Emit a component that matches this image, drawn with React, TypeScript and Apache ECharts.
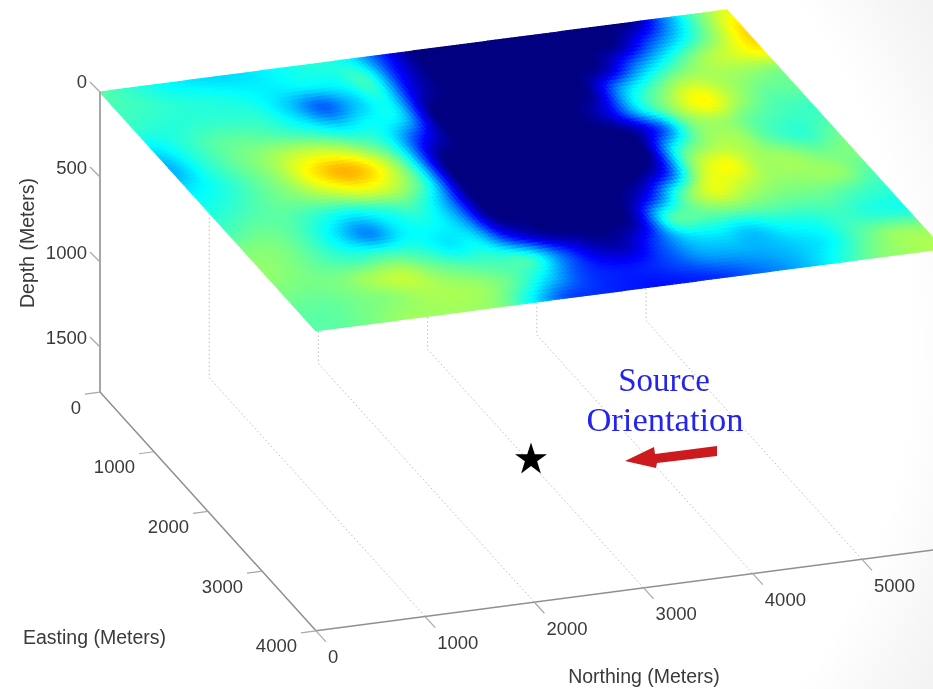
import React, { useEffect, useRef } from "react";
import * as echarts from "echarts";

const northingTicks = [0, 1000, 2000, 3000, 4000, 5000];
const eastingTicks = [0, 1000, 2000, 3000, 4000];
const depthTicks = [0, 500, 1000, 1500];
const gridLineNorthings = [1000, 2000, 3000, 4000, 5000];

const northingMax = 5740;
const eastingMax = 4000;
const floorDepth = 1765;
const sourceNorthing = 3040;
const sourceEasting = 1834;

const row00 = [.46,.42,.38,.35,.34,.36,.39,.41,.36,.17,.0,0,0,0,0,0,0,.02,.25,.47,.60];
const row01 = [.44,.43,.41,.40,.38,.36,.37,.38,.42,.14,0,0,0,0,0,0,.03,.20,.36,.52,.66];
const row02 = [.42,.41,.42,.42,.41,.33,.22,.32,.38,.08,0,0,0,0,0,.05,.25,.40,.52,.58,.64];
const row03 = [.35,.41,.46,.47,.45,.41,.35,.38,.33,0,0,0,0,0,.03,.30,.45,.55,.54,.52,.50];
const row04 = [.30,.40,.47,.52,.57,.57,.50,.39,.15,0,0,0,0,0,.10,.36,.53,.63,.54,.47,.47];
const row05 = [.36,.40,.46,.53,.64,.70,.62,.42,.03,0,0,0,0,0,0,.18,.48,.53,.47,.44,.43];
const row06 = [.40,.43,.47,.50,.55,.60,.56,.40,0,0,0,0,0,0,0,.40,.53,.54,.46,.42,.47];
const row07 = [.44,.47,.46,.41,.37,.41,.44,.30,0,0,0,0,0,0,.14,.52,.62,.54,.53,.49,.50];
const row08 = [.50,.50,.45,.36,.26,.36,.38,.30,.02,0,0,0,0,.15,.45,.60,.56,.52,.52,.52,.46];
const row09 = [.52,.50,.46,.43,.44,.42,.36,.36,.15,.03,0,0,.06,.42,.47,.49,.48,.47,.47,.44,.42];
const row10 = [.50,.49,.50,.54,.56,.50,.46,.44,.42,.22,.08,.05,.18,.33,.36,.33,.38,.40,.43,.41,.40];
const row11 = [.47,.47,.49,.51,.54,.54,.52,.46,.34,.20,.15,.15,.20,.27,.29,.30,.33,.37,.46,.52,.52];
const row12 = [.46,.47,.50,.53,.53,.53,.50,.36,.20,.17,.15,.14,.15,.17,.22,.27,.33,.42,.50,.53,.55];
const amplitudeRows = [row00,row01,row02,row03,row04,row05,row06,row07,row08,row09,row10,row11,row12];

const W = 933;
const H = 689;
const SUB_N = 8;
const SUB_E = 6;
const FONT = '18.5px "Liberation Sans", Arial, sans-serif';
const TITLE_FONT = '19.5px "Liberation Sans", Arial, sans-serif';
const TEXT = "#3a3a3a";
const AXIS = "#8f8f8f";

// Oblique view of the 3-D box: (northing, easting, depth) to the hidden cartesian axes.
const project = (n: number, e: number, d: number): number[] => [
  100 + 0.1092 * n + 0.054 * e,
  92 - 0.0143 * n + 0.0597 * e + 0.17 * d,
];

const stops: [number, number[]][] = [
  [0, [0, 0, 128]],
  [0.125, [0, 0, 255]],
  [0.375, [0, 255, 255]],
  [0.625, [255, 255, 0]],
  [0.875, [255, 0, 0]],
  [1, [128, 0, 0]],
];
const jet = (t: number): string => {
  const v = Math.min(1, Math.max(0, t));
  for (let i = 1; i < stops.length; i++) {
    if (v <= stops[i][0]) {
      const [a, ca] = stops[i - 1];
      const [b, cb] = stops[i];
      const f = (v - a) / (b - a);
      return `rgb(${ca.map((c, k) => Math.round(c + (cb[k] - c) * f)).join(",")})`;
    }
  }
  return "rgb(128,0,0)";
};

// Smooth shading of one cell, as the original's interpolated surface is shaded.
const spline = (p0: number, p1: number, p2: number, p3: number, t: number) =>
  0.5 * (2 * p1 + (p2 - p0) * t + (2 * p0 - 5 * p1 + 4 * p2 - p3) * t * t + (3 * p1 - p0 - 3 * p2 + p3) * t * t * t);
const shade = (r: number, c: number, fr: number, fc: number) => {
  const R = amplitudeRows.length - 1;
  const C = row00.length - 1;
  const col = (rr: number) => {
    const row = amplitudeRows[Math.min(R, Math.max(0, rr))];
    const at = (k: number) => row[Math.min(C, Math.max(0, k))];
    return spline(at(c - 1), at(c), at(c + 1), at(c + 2), fc);
  };
  return spline(col(r - 1), col(r), col(r + 1), col(r + 2), fr);
};

const surfaceCells: number[][] = [];
const stepN = northingMax / (row00.length - 1);
const stepE = eastingMax / (amplitudeRows.length - 1);
for (let r = 0; r < amplitudeRows.length - 1; r++) {
  for (let c = 0; c < row00.length - 1; c++) {
    for (let i = 0; i < SUB_E; i++) {
      for (let j = 0; j < SUB_N; j++) {
        surfaceCells.push([
          (c + j / SUB_N) * stepN,
          (c + (j + 1) / SUB_N) * stepN,
          (r + i / SUB_E) * stepE,
          (r + (i + 1) / SUB_E) * stepE,
          shade(r, c, (i + 0.5) / SUB_E, (j + 0.5) / SUB_N),
        ]);
      }
    }
  }
}

type Tick = { from: number[]; dx: number; dy: number; lx: number; ly: number; align: string; label: string };
const ticks: Tick[] = [
  ...depthTicks.map((d) => ({ from: project(0, 0, d), dx: -10, dy: -10, lx: -13, ly: d === 0 ? -11 : -10, align: "right", label: String(d) })),
  ...eastingTicks.map((e) => ({ from: project(0, e, floorDepth), dx: -15, dy: 2, lx: -19, ly: 15, align: "right", label: String(e) })),
  ...northingTicks.map((n) => ({ from: project(n, eastingMax, floorDepth), dx: 10, dy: 11, lx: 12, ly: 26, align: "left", label: String(n) })),
];

const STAR = "path://M50 0 L61.8 35.5 L100 35.5 L69.1 57.5 L80.9 95 L50 71.5 L19.1 95 L30.9 57.5 L0 35.5 L38.2 35.5 Z";

export default function App() {
  const ref = useRef<HTMLDivElement>(null);
  useEffect(() => {
    const chart = echarts.init(ref.current!, null, { renderer: "svg" });
    chart.setOption({
      animation: false,
      grid: { left: 0, right: 0, top: 0, bottom: 0 },
      xAxis: { type: "value", min: 0, max: W, show: false },
      yAxis: { type: "value", min: 0, max: H, inverse: true, show: false },
      graphic: [
        {
          type: "rect",
          z: -10,
          silent: true,
          shape: { x: 0, y: 0, width: W, height: H },
          style: {
            fill: new echarts.graphic.RadialGradient(350, 345, 760, [
              { offset: 0, color: "#ffffff" },
              { offset: 0.74, color: "#ffffff" },
              { offset: 0.89, color: "#f2f2f2" },
              { offset: 1, color: "#e6e6e6" },
            ], true),
          },
        },
        { type: "text", z: 10, x: 664, y: 380, style: { text: "Source", font: '33px "Liberation Serif", serif', fill: "#2424f0", align: "center", verticalAlign: "middle" } },
        { type: "text", z: 10, x: 665, y: 419, style: { text: "Orientation", font: '34.5px "Liberation Serif", serif', fill: "#2424f0", align: "center", verticalAlign: "middle" } },
        {
          type: "polygon",
          z: 10,
          shape: { points: [[625, 461], [654, 447], [655, 454], [717, 446], [717, 456], [657, 463], [656, 468]] },
          style: { fill: "#cc1a1f" },
        },
        { type: "text", z: 10, x: 23, y: 637, style: { text: "Easting (Meters)", font: TITLE_FONT, fill: TEXT, align: "left", verticalAlign: "middle" } },
        { type: "text", z: 10, x: 644, y: 676, style: { text: "Northing (Meters)", font: TITLE_FONT, fill: TEXT, align: "center", verticalAlign: "middle" } },
        { type: "text", z: 10, x: 27, y: 243, rotation: Math.PI / 2, style: { text: "Depth (Meters)", font: TITLE_FONT, fill: TEXT, align: "center", verticalAlign: "middle" } },
      ],
      series: [
        {
          type: "custom",
          name: "Grid lines",
          z: 2,
          silent: true,
          clip: false,
          data: gridLineNorthings.map((n) => [n]),
          renderItem: (_p: any, api: any) => {
            const n = api.value(0);
            const pts = [project(n, 0, 0), project(n, 0, floorDepth), project(n, eastingMax, floorDepth)].map((p) => api.coord(p));
            return { type: "polyline", shape: { points: pts }, style: { stroke: "#bdbdbd", lineWidth: 1, lineDash: [1.5, 2.5], fill: "none" } };
          },
        },
        {
          type: "custom",
          name: "Amplitude",
          z: 3,
          silent: true,
          clip: false,
          progressive: 0,
          data: surfaceCells,
          renderItem: (_p: any, api: any) => {
            const n0 = api.value(0), n1 = api.value(1), e0 = api.value(2), e1 = api.value(3);
            const color = jet(api.value(4));
            const pts = [project(n0, e0, 0), project(n1, e0, 0), project(n1, e1, 0), project(n0, e1, 0)].map((p) => api.coord(p));
            return { type: "polygon", shape: { points: pts }, style: { fill: color, stroke: color, lineWidth: 1.2, lineJoin: "round" } };
          },
        },
        {
          type: "custom",
          name: "Axes",
          z: 4,
          silent: true,
          clip: false,
          data: [[0], [1], [2]],
          renderItem: (p: any, api: any) => {
            const ends = [
              [project(0, 0, 0), project(0, 0, floorDepth)],
              [project(0, 0, floorDepth), project(0, eastingMax, floorDepth)],
              [project(0, eastingMax, floorDepth), project(northingMax, eastingMax, floorDepth)],
            ][p.dataIndex].map((q) => api.coord(q));
            return {
              type: "line",
              shape: { x1: ends[0][0], y1: ends[0][1], x2: ends[1][0], y2: ends[1][1] },
              style: { stroke: p.dataIndex === 0 ? "#a6a6a6" : AXIS, lineWidth: p.dataIndex === 0 ? 2 : 1.5 },
            };
          },
        },
        {
          type: "custom",
          name: "Ticks",
          z: 4,
          silent: true,
          clip: false,
          data: ticks.map((_t, i) => [i]),
          renderItem: (p: any, api: any) => {
            const t = ticks[p.dataIndex];
            const [x, y] = api.coord(t.from);
            return {
              type: "group",
              children: [
                { type: "line", shape: { x1: x, y1: y, x2: x + t.dx, y2: y + t.dy }, style: { stroke: "#a8a8a8", lineWidth: 1.2 } },
                { type: "text", x: x + t.lx, y: y + t.ly, style: { text: t.label, font: FONT, fill: TEXT, align: t.align, verticalAlign: "middle" } },
              ],
            };
          },
        },
        {
          type: "scatter",
          name: "Source",
          z: 5,
          silent: true,
          symbol: STAR,
          symbolSize: [32, 31],
          itemStyle: { color: "#000000", opacity: 1 },
          data: [project(sourceNorthing, sourceEasting, floorDepth)],
        },
      ],
    });
    return () => chart.dispose();
  }, []);
  return (
    <div
      ref={ref}
      style={{ position: "absolute", left: 0, top: 0, width: W, height: H, filter: "blur(0.7px)" }}
    />
  );
}
